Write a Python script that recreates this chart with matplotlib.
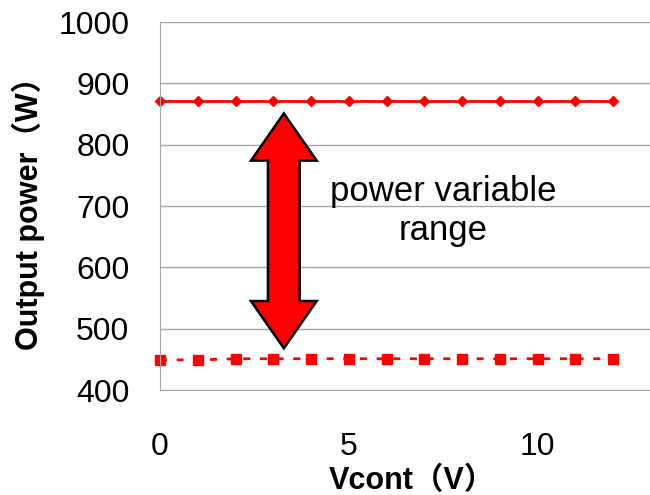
import matplotlib.pyplot as plt
from matplotlib.patches import Polygon

plt.rcParams['font.family'] = ['Liberation Sans', 'Noto Sans CJK JP']

vcont = [0, 1, 2, 3, 4, 5, 6, 7, 8, 9, 10, 11, 12]
p_max = [871, 871, 871, 871, 871, 871, 871, 871, 871, 871, 871, 871, 871]
p_min = [449, 449, 451, 451, 451, 451, 451, 451, 451, 451, 451, 451, 451]

fig = plt.figure(figsize=(6.5, 4.95), dpi=100)
ax = fig.add_axes([160 / 650, 105 / 495, 490 / 650, 368 / 495])

ax.plot(vcont, p_max, color='red', lw=2, marker='D', ms=5, clip_on=False)
ax.plot(vcont, p_min, color='red', lw=2, ls=(0, (2.5, 3.5)), marker='s', ms=7,
        clip_on=False)

# double-headed block arrow marking the adjustable range
ax_x, top, bottom = 3.28, 851, 468
shaft, head_w, head_len = 0.42, 0.87, 77
outline = [
    (ax_x, top),
    (ax_x + head_w, top - head_len), (ax_x + shaft, top - head_len),
    (ax_x + shaft, bottom + head_len), (ax_x + head_w, bottom + head_len),
    (ax_x, bottom),
    (ax_x - head_w, bottom + head_len), (ax_x - shaft, bottom + head_len),
    (ax_x - shaft, top - head_len), (ax_x - head_w, top - head_len),
]
ax.add_patch(Polygon(outline, closed=True, fc='red', ec='black', lw=1.8,
                     joinstyle='miter', zorder=5))
ax.text(7.5, 692, 'power variable\nrange', ha='center', va='center',
        fontsize=25, linespacing=1.2)

ax.set_xlim(0, 12.98)
ax.set_ylim(400, 1000)
ax.set_xticks([0, 5, 10])
ax.set_yticks(range(400, 1001, 100))
ax.yaxis.grid(True, color='#a6a6a6', lw=1)
ax.set_axisbelow(True)
ax.tick_params(length=0, labelsize=23)
ax.tick_params(axis='x', pad=30)
ax.tick_params(axis='y', pad=22)
for s in ['right', 'top']:
    ax.spines[s].set_visible(False)
for s in ['left', 'bottom']:
    ax.spines[s].set_color('#a6a6a6')

ax.set_xlabel('Vcont（V）', fontsize=22, fontweight='bold')
ax.xaxis.set_label_coords(252 / 490, -76 / 368)
ax.set_ylabel('Output power（W）', fontsize=22, fontweight='bold')
ax.yaxis.set_label_coords(-115 / 490, 0.5)

fig.savefig('out.png')
